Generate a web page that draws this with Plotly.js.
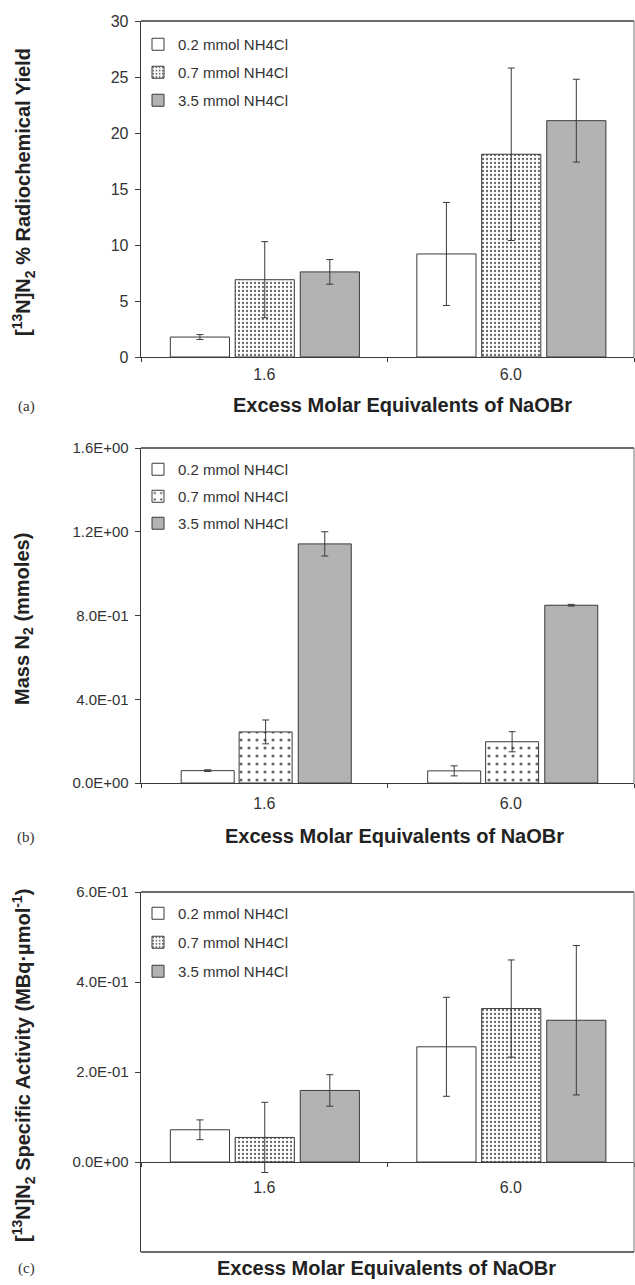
<!DOCTYPE html>
<html>
<head>
<meta charset="utf-8">
<script src="https://cdn.plot.ly/plotly-3.0.1.min.js"></script>
<style>html,body{margin:0;padding:0;background:#fff;}#chart{width:635px;height:1285px;}</style>
</head>
<body>
<div id="chart"></div>
<script>
// ---------- data ----------
const categories = ['1.6', '6.0'];
const seriesNames = ['0.2 mmol NH4Cl', '0.7 mmol NH4Cl', '3.5 mmol NH4Cl'];

// (a) [13N]N2 % radiochemical yield
const yieldLow = [1.78, 9.2];
const yieldLowErr = [0.22, 4.6];
const yieldMid = [6.9, 18.1];
const yieldMidErr = [3.4, 7.7];
const yieldHigh = [7.6, 21.1];
const yieldHighErr = [1.1, 3.7];

// (b) Mass N2 (mmoles)
const massLow = [0.059, 0.058];
const massLowErr = [0.004, 0.024];
const massMid = [0.244, 0.197];
const massMidErr = [0.057, 0.048];
const massHigh = [1.142, 0.849];
const massHighErr = [0.058, 0.004];

// (c) specific activity (MBq/umol)
const actLow = [0.0716, 0.256];
const actLowErr = [0.022, 0.11];
const actMid = [0.0546, 0.341];
const actMidErr = [0.078, 0.108];
const actHigh = [0.159, 0.315];
const actHighErr = [0.035, 0.166];

// tick labels
const yieldTickVals = [0, 5, 10, 15, 20, 25, 30];
const yieldTickText = ['0', '5', '10', '15', '20', '25', '30'];
const massTickVals = [0, 0.4, 0.8, 1.2, 1.6];
const massTickText = ['0.0E+00', '4.0E-01', '8.0E-01', '1.2E+00', '1.6E+00'];
const actTickVals = [0, 0.2, 0.4, 0.6];
const actTickText = ['0.0E+00', '2.0E-01', '4.0E-01', '6.0E-01'];

// ---------- helpers ----------
const W = 635, H = 1285;
const px = v => v / W;
const py = v => 1 - v / H;
const FONT = 'Liberation Sans, Arial, Helvetica, sans-serif';
const DARK = '#3a3a3a';

function bar(xa, ya, legendId, k, y, err, offset, width, dotSize, dotSolid) {
  const marker = { line: { color: DARK, width: 1 } };
  if (k === 0) marker.color = '#ffffff';
  if (k === 1) {
    marker.color = '#ffffff';
    marker.pattern = { shape: '.', fgcolor: '#666666', bgcolor: '#ffffff', size: dotSize, solidity: dotSolid };
  }
  if (k === 2) marker.color = '#b3b3b3';
  return {
    type: 'bar', x: categories, y: y, name: seriesNames[k],
    xaxis: xa, yaxis: ya, legend: legendId, legendgroup: legendId + k,
    offset: offset, width: width, marker: marker,
    error_y: { type: 'data', array: err, visible: true, color: DARK, thickness: 1, width: 3.5 },
    hoverinfo: 'x+y+name'
  };
}

const offA = [-0.381, -0.118, 0.146], wA = 0.24;
const offB = [-0.337, -0.102, 0.138], wB = 0.215;

const data = [
  bar('x', 'y', 'legend', 0, yieldLow, yieldLowErr, offA[0], wA, 4, 0.25),
  bar('x', 'y', 'legend', 1, yieldMid, yieldMidErr, offA[1], wA, 4, 0.25),
  bar('x', 'y', 'legend', 2, yieldHigh, yieldHighErr, offA[2], wA, 4, 0.25),
  bar('x2', 'y2', 'legend2', 0, massLow, massLowErr, offB[0], wB, 8, 0.12),
  bar('x2', 'y2', 'legend2', 1, massMid, massMidErr, offB[1], wB, 8, 0.12),
  bar('x2', 'y2', 'legend2', 2, massHigh, massHighErr, offB[2], wB, 8, 0.12),
  bar('x3', 'y3', 'legend3', 0, actLow, actLowErr, offA[0], wA, 4, 0.25),
  bar('x3', 'y3', 'legend3', 1, actMid, actMidErr, offA[1], wA, 4, 0.25),
  bar('x3', 'y3', 'legend3', 2, actHigh, actHighErr, offA[2], wA, 4, 0.25)
];

const xDomain = [px(141), px(634)];
const panels = [
  { top: 21, bottom: 357 },
  { top: 448, bottom: 783 },
  { top: 892, bottom: 1252 }
];

function xaxis(anchor, standoff, extra) {
  return Object.assign({
    domain: xDomain, anchor: anchor, type: 'category', range: [-0.5, 1.5],
    showline: true, linecolor: DARK, linewidth: 1.3,
    ticks: 'outside', tickson: 'boundaries', ticklen: 4, tickcolor: DARK,
    tickfont: { family: FONT, size: 16, color: '#333' }, ticklabelstandoff: standoff,
    showgrid: false, zeroline: false, fixedrange: true
  }, extra || {});
}
function yaxis(anchor, p, range, vals, text, fs) {
  return {
    domain: [py(p.bottom), py(p.top)], anchor: anchor, range: range,
    tickmode: 'array', tickvals: vals, ticktext: text,
    showline: true, linecolor: DARK, linewidth: 1.3,
    ticks: 'outside', ticklen: 5, tickcolor: DARK,
    tickfont: { family: FONT, size: fs, color: '#333' }, ticklabelstandoff: 3,
    showgrid: false, zeroline: false, fixedrange: true
  };
}
function legend(firstCenter, gap) {
  return {
    x: px(138), xanchor: 'left', y: py(firstCenter - 15), yanchor: 'top',
    bgcolor: 'rgba(0,0,0,0)', borderwidth: 0, traceorder: 'grouped', tracegroupgap: gap,
    font: { family: FONT, size: 15, color: '#333' }, itemclick: false, itemdoubleclick: false
  };
}

const shapes = [];
panels.forEach(p => {
  shapes.push({ type: 'line', xref: 'paper', yref: 'paper', x0: px(141), x1: px(634), y0: py(p.top), y1: py(p.top), line: { color: DARK, width: 1.3 } });
  shapes.push({ type: 'line', xref: 'paper', yref: 'paper', x0: px(634), x1: px(634), y0: py(p.top), y1: py(p.bottom), line: { color: '#8a8a8a', width: 1.2 } });
});
shapes.push({ type: 'line', xref: 'paper', yref: 'paper', x0: px(141), x1: px(634), y0: py(1252), y1: py(1252), line: { color: DARK, width: 1.3 } });

const titleFont = { family: FONT, size: 20, color: '#222' };
const labelFont = { family: 'Liberation Serif, Times New Roman, serif', size: 15, color: '#333' };
const xTitle = 'Excess Molar Equivalents of NaOBr';
function ann(text, x, y, font, angle) {
  const a = { text: text, x: px(x), y: py(y), xref: 'paper', yref: 'paper', xanchor: 'center', yanchor: 'middle', showarrow: false, font: font };
  if (angle) a.textangle = angle;
  return a;
}
const annotations = [
  ann('<b>' + xTitle + '</b>', 402, 405, titleFont),
  ann('<b>' + xTitle + '</b>', 394, 836, titleFont),
  ann('<b>' + xTitle + '</b>', 386, 1268, titleFont),
  ann('<b>[<sup>13</sup>N]N<sub>2</sub> % Radiochemical Yield</b>', 23, 192, titleFont, -90),
  ann('<b>Mass N<sub>2</sub> (mmoles)</b>', 23, 619, titleFont, -90),
  ann('<b>[<sup>13</sup>N]N<sub>2</sub> Specific Activity (MBq·µmol<sup>-1</sup>)</b>', 23, 1066, titleFont, -90),
  ann('(a)', 26, 406, labelFont),
  ann('(b)', 26, 837, labelFont),
  ann('(c)', 26, 1268, labelFont)
];

const layout = {
  width: W, height: H, margin: { l: 0, r: 0, t: 0, b: 0 },
  paper_bgcolor: '#ffffff', plot_bgcolor: '#ffffff',
  barmode: 'group', showlegend: true,
  font: { family: FONT, color: '#333' },
  xaxis: xaxis('y', 2),
  yaxis: yaxis('x', panels[0], [0, 30], yieldTickVals, yieldTickText, 16),
  xaxis2: xaxis('y2', 5),
  yaxis2: yaxis('x2', panels[1], [0, 1.6], massTickVals, massTickText, 15),
  xaxis3: xaxis('free', 10, { position: py(1162) }),
  yaxis3: yaxis('x3', panels[2], [-0.2, 0.6], actTickVals, actTickText, 15),
  legend: legend(43, 5.5),
  legend2: legend(468, 4.5),
  legend3: legend(912, 6.5),
  shapes: shapes,
  annotations: annotations
};

Plotly.newPlot('chart', data, layout, { displayModeBar: false, staticPlot: true });
</script>
</body>
</html>
